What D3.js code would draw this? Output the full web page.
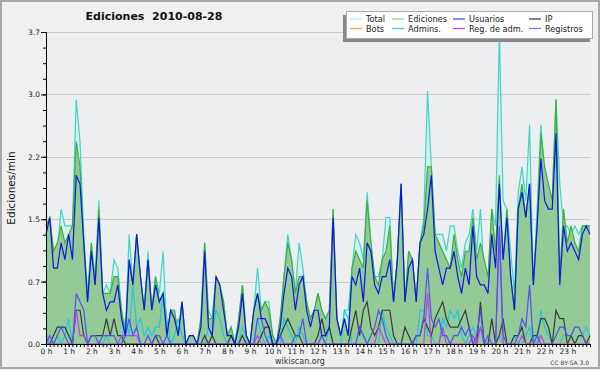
<!DOCTYPE html>
<html>
<head>
<meta charset="utf-8">
<title>Ediciones 2010-08-28</title>
<style type="text/css">
  body{ margin:0; background:#f0f0f0; }
  text{ font-family:"DejaVu Sans", sans-serif; }
</style>
</head>
<body>
<div id="chart"></div>
<script src="https://cdn.jsdelivr.net/npm/d3@7"></script>
<script>
// one value every 10 minutes, 0:00 .. 24:00 (edits per minute)
var total = [
  1.4,1.5,1.1,1.1,1.6,1.4,1.4,1.4,2.9,2.4,
  1.3,0.6,1.2,0.8,1.7,0.6,0.7,0.6,1.0,0.9,
  0.4,0.1,1.3,0.7,1.3,0.8,0.4,1.1,0.4,0.8,
  0.6,1.1,0.1,0.4,0.4,0.1,0.5,0,0.1,0.1,
  0,0.3,1.2,0.4,0.3,0.8,0.7,0.5,0.1,0.2,
  0,0.3,0.7,0.1,0,0.4,0.9,0.4,0.5,0.5,
  0.1,0,0.3,0.8,1.3,1.0,0.6,1.2,0.9,0.5,
  0.3,0.4,0.6,0.4,0.3,0.4,1.6,0.3,0.1,0.4,
  0.4,0.9,1.3,1.2,1.0,1.8,1.2,0.8,0.8,1.0,
  1.5,1.5,0.5,1.0,1.9,0.5,1.1,1.0,0.5,1.2,
  1.5,3.0,2.1,1.3,1.3,1.3,1.1,1.4,1.4,1.1,
  0.9,1.2,1.3,1.6,1.1,1.6,0.8,0.7,1.6,1.4,
  3.7,1.7,1.6,1.1,0.6,1.8,2.1,1.7,2.6,0.7,
  1.6,2.6,2.0,1.7,1.7,2.9,1.9,1.4,1.4,1.3,
  1.4,1.3,1.4,1.4,1.4];
var ediciones = [
  1.4,1.5,1.1,1.2,1.4,1.2,1.3,1.4,2.4,2.1,
  1.2,0.5,1.2,0.7,1.6,0.6,0.6,0.6,0.8,0.8,
  0.4,0.1,1.0,0.7,1.3,0.8,0.4,1.0,0.4,0.8,
  0.5,0.6,0.1,0.4,0.4,0.1,0.5,0,0.1,0.1,
  0,0.3,1.2,0.3,0.3,0.8,0.7,0.5,0.1,0.2,
  0,0.3,0.7,0.1,0,0.4,0.6,0.4,0.5,0.4,
  0.1,0,0.3,0.8,1.2,1.0,0.6,0.8,0.8,0.5,
  0.3,0.4,0.6,0.4,0.3,0.4,1.6,0.3,0.1,0.3,
  0.1,0.9,1.1,1.0,0.9,1.7,1.2,0.8,0.7,1.0,
  1.1,1.4,0.5,1.0,1.9,0.5,1.1,1.0,0.5,1.2,
  1.4,2.1,2.1,1.3,1.2,1.1,1.0,0.9,1.3,1.0,
  0.8,1.1,1.1,1.5,1.0,1.2,1.0,0.8,1.6,1.1,
  2.0,1.0,1.6,0.8,0.4,1.6,1.9,1.5,1.9,0.7,
  1.4,2.5,2.1,1.9,1.7,2.9,0.8,1.6,1.2,1.4,
  1.2,1.1,1.4,1.4,1.4];
var usuarios = [
  1.3,1.5,0.9,0.9,1.2,1.0,1.3,1.0,2.0,1.9,
  1.2,0.5,1.1,0.7,1.5,0.6,0.4,0.5,0.5,0.7,
  0.3,0.1,1.0,0.7,1.3,0.8,0.4,1.0,0.4,0.7,
  0.5,0.6,0.1,0.4,0.3,0.1,0.5,0,0.1,0.1,
  0,0.2,1.1,0.2,0.1,0.8,0.7,0.4,0.1,0.1,
  0,0.2,0.6,0.1,0,0.4,0.6,0.3,0.3,0.2,
  0,0,0.2,0.6,0.9,0.8,0.4,0.7,0.8,0.4,
  0.2,0.4,0.4,0.1,0.1,0.2,1.5,0.3,0.1,0.3,
  0.1,0.8,0.7,0.9,0.5,1.2,1.1,0.7,0.6,0.8,
  0.8,1.0,0.5,1.0,1.9,0.5,0.9,1.0,0.5,1.2,
  1.3,1.6,2.0,1.1,0.9,0.7,0.9,0.9,1.1,0.8,
  0.6,0.9,0.7,1.4,0.8,0.7,0.7,0.6,1.3,0.9,
  1.9,1.0,1.5,0.8,0.4,1.6,1.8,1.5,1.9,0.7,
  1.4,2.2,1.7,1.6,1.6,2.5,0.7,1.4,1.1,1.2,
  1.1,1.0,1.3,1.4,1.3];
var ip = [
  0,0,0.1,0.2,0.2,0.2,0.1,0,0.4,0.4,
  0.1,0,0.1,0.1,0.1,0.1,0.3,0.1,0.3,0.1,
  0.1,0,0,0,0,0,0,0,0,0.1,
  0,0,0,0,0,0,0,0,0,0,
  0,0,0.1,0,0.1,0,0,0,0,0.1,
  0,0,0.1,0,0,0,0,0.1,0.2,0.2,
  0,0,0.1,0.2,0.3,0.2,0.1,0.1,0,0,
  0,0,0.1,0.3,0.1,0.2,0,0,0,0,
  0,0.2,0.4,0.1,0.4,0.5,0.2,0.1,0.2,0.4,
  0.4,0.4,0.1,0,0,0.2,0.1,0,0.1,0.1,
  0.3,0.2,0.1,0.3,0.4,0.5,0.3,0.2,0.2,0.2,
  0.3,0.4,0.2,0,0,0.5,0,0,0.3,0,
  0.1,0.3,0,0,0.1,0.1,0.2,0,0,0.1,
  0.1,0.3,0.3,0.2,0,0.4,0.3,0.3,0,0.1,
  0,0.1,0.1,0,0.1];
var bots = [
  0,0,0,0,0,0,0,0,0,0, 0,0,0,0,0,0,0,0,0,0,
  0,0,0,0,0,0,0,0,0,0, 0,0,0,0,0,0,0,0,0,0,
  0,0,0,0,0,0,0,0,0,0, 0,0,0,0,0,0,0,0,0,0,
  0,0,0,0,0,0,0,0,0,0, 0,0,0,0,0,0,0,0,0,0,
  0,0,0,0,0,0,0,0,0,0, 0,0,0,0,0,0,0,0,0,0,
  0,0,0,0,0,0,0,0,0,0, 0,0,0,0,0,0,0,0,0,0,
  0,0,0,0,0,0,0,0,0,0, 0,0,0,0,0,0,0,0,0,0,
  0,0,0,0,0];
var admins = [
  0.1,0,0,0.1,0,0.1,0.3,0,0,0,
  0,0,0,0,0,0,0.1,0,0,0,
  0,0.3,0.1,0.7,0.2,0.3,0.1,0.2,0.1,0.2,
  0.2,0.6,0.3,0,0.1,0.3,0.1,0,0,0,
  0,0,0,0.2,0.1,0.4,0.3,0.1,0,0,
  0,0,0.2,0.1,0,0,0.3,0.1,0,0.1,
  0,0,0,0.3,0.2,0.1,0,0.2,0.1,0,
  0,0,0,0.1,0,0.2,0,0,0,0.4,
  0.3,0,0,0.2,0.1,0,0,0,0,0.4,
  0.2,0.1,0,0,0,0,0,0,0,0.4,
  0.4,0.1,0.1,0,0,0.3,0.2,0.4,0.3,0.4,
  0.1,0,0.1,0.2,0.1,0.2,0,0,0,0,
  0.1,0,0,0,0.1,0,0,0.1,0.2,0,
  0,0.4,0.2,0.1,0,0,0,0.1,0.1,0.1,
  0,0.1,0.1,0.2,0.1];
var regAdm = [
  0,0,0,0,0,0,0,0,0.4,0.1,
  0.1,0,0,0,0,0,0,0,0,0,
  0.1,0.1,0.1,0.1,0.1,0,0,0,0,0,
  0,0,0,0,0,0,0,0,0,0,
  0,0,0,0,0,0,0,0,0,0,
  0,0,0,0,0,0,0.1,0,0,0,
  0,0,0,0,0,0,0,0,0,0,
  0,0,0,0,0,0,0,0,0,0,
  0,0,0,0,0,0,0,0,0.2,0.1,
  0,0,0,0,0,0,0,0,0,0,
  0,0.6,0,0,0,0.2,0,0,0,0,
  0,0,0,0.1,0,0.2,0,0,0,0,
  1.3,0,0,0,0,0,0.1,0,0,0,
  0,0.1,0,0,0,0,0,0,0,0,
  0,0,0,0,0];
var registros = [
  0,0.1,0,0.1,0.2,0.1,0,0,0.6,0.5,
  0.4,0,0.1,0.1,0,0.1,0.1,0.1,0.1,0,
  0,0.1,0.3,0.1,0.2,0,0,0.1,0,0.1,
  0.1,0,0.1,0,0,0,0,0,0,0,
  0,0,0,0,0,0,0,0,0,0,
  0,0,0,0,0,0,0.3,0.3,0.1,0,
  0,0,0.1,0,0,0,0.1,0.1,0.3,0,
  0,0,0,0.1,0,0,0,0,0,0,
  0,0,0,0.2,0.1,0,0.1,0.2,0.4,0.3,
  0.1,0,0,0,0,0,0,0,0.1,0.1,
  0.3,0.9,0.3,0.2,0.3,0.1,0.1,0,0.1,0.1,
  0.2,0.1,0.2,0,0.1,0.4,0,0.1,0,0,
  1.4,0.1,0,0,0,0.1,0.3,0.2,0.7,0,
  0.1,0,0,0,0,0.1,0.2,0.2,0.1,0.1,
  0.2,0.2,0.1,0,0];

var hourLabels = ['0 h','1 h','2 h','3 h','4 h','5 h','6 h','7 h','8 h','9 h','10 h','11 h',
                  '12 h','13 h','14 h','15 h','16 h','17 h','18 h','19 h','20 h','21 h','22 h','23 h'];
var yTicks = [0, 0.74, 1.48, 2.22, 2.96, 3.7];
var yTickLabels = ['0.0','0.7','1.5','2.2','3.0','3.7'];

var legendNames  = ['Total','Ediciones','Usuarios','IP','Bots','Admins.','Reg. de adm.','Registros'];
var legendColors = ['#b2ecea','#8ed48e','#3a3ae6','#333333','#f2a23a','#3cc8e2','#c63ce6','#7272f2'];

var W = 600, H = 370;
var pLeft = 46, pRight = 590, pTop = 32, pBottom = 344;

var svg = d3.select('#chart').append('svg')
    .attr('width', W).attr('height', H);

svg.append('rect').attr('x',1).attr('y',1).attr('width',W-2).attr('height',H-3)
    .attr('fill','#f0f0f0').attr('stroke','#a8a8a8').attr('stroke-width',2);

var x = d3.scaleLinear().domain([0, 144]).range([pLeft, pRight]);
var y = d3.scaleLinear().domain([0, 3.7]).range([pBottom, pTop]);

svg.append('rect').attr('x',pLeft).attr('y',pTop)
    .attr('width',pRight-pLeft).attr('height',pBottom-pTop).attr('fill','#eceef0');

// grid
svg.append('g').selectAll('line')
  .data(yTicks.slice(1))
  .enter().append('line')
  .attr('x1',pLeft).attr('x2',pRight)
  .attr('y1',function(d){ return Math.round(y(d))+0.5; })
  .attr('y2',function(d){ return Math.round(y(d))+0.5; })
  .style('stroke','#c9c9c9').style('stroke-width',1);

function area(arr){
  return d3.area()
    .x(function(d,i){ return x(i); })
    .y0(y(0))
    .y1(function(d){ return y(d); })(arr);
}
function line(arr){
  return d3.line()
    .x(function(d,i){ return x(i); })
    .y(function(d){ return y(d); })(arr);
}

var g = svg.append('g');
g.append('path').attr('d', area(total)).attr('fill','#d6f1ec');
g.append('path').attr('d', line(total)).attr('fill','none').style('stroke','#3fd4c6').style('stroke-width',1.2);
g.append('path').attr('d', area(ediciones)).attr('fill','#93ca95');
g.append('path').attr('d', line(ediciones)).attr('fill','none').style('stroke','#3caf3c').style('stroke-width',1.2);

var others = [
  { v: bots,      c: '#f2a23a' },
  { v: admins,    c: '#22c6e0' },
  { v: ip,        c: '#3a3a3a' },
  { v: regAdm,    c: '#c03ce8' },
  { v: registros, c: '#5050f6' },
  { v: usuarios,  c: '#1016e2' }
];
others.forEach(function(s){
  g.append('path').attr('d', line(s.v)).attr('fill','none')
    .style('stroke', s.c).style('stroke-width',1.2);
});

// axes
svg.append('g').attr('transform','translate(' + pLeft + ',0)')
  .call(d3.axisLeft(y).tickValues(yTicks)
        .tickFormat(function(d,i){ return yTickLabels[i]; })
        .tickSize(5).tickSizeOuter(0).tickPadding(1));
svg.append('g').attr('transform','translate(' + pLeft + ',0)')
  .call(d3.axisLeft(y).tickValues(d3.range(0, 21).map(function(k){ return k*0.185; }))
        .tickFormat('').tickSize(3).tickSizeOuter(0));

svg.append('g').attr('transform','translate(0,' + pBottom + ')')
  .call(d3.axisBottom(x).tickValues(hourLabels.map(function(d,i){ return i*6; }))
        .tickFormat(function(d,i){ return hourLabels[i]; })
        .tickSize(3).tickSizeOuter(0).tickPadding(2));
svg.append('g').attr('transform','translate(0,' + pBottom + ')')
  .call(d3.axisBottom(x).tickValues(d3.range(0, 145))
        .tickFormat('').tickSize(3).tickSizeOuter(0));

svg.selectAll('.tick text').style('font-family','DejaVu Sans').style('font-size','7.5px').attr('fill','#222');
svg.selectAll('.domain').style('stroke','#000');
svg.selectAll('.tick line').style('stroke','#000');

// title
svg.append('text').attr('x',154).attr('y',20).attr('text-anchor','middle')
  .attr('xml:space','preserve')
  .style('font-size','11px').style('font-weight','bold').attr('fill','#111')
  .text('Ediciones  2010-08-28');

svg.append('text').attr('transform','translate(15,188) rotate(-90)')
  .attr('text-anchor','middle').style('font-size','10.5px').attr('fill','#111')
  .text('Ediciones/min');

svg.append('text').attr('x',300).attr('y',364).attr('text-anchor','middle')
  .style('font-size','8px').attr('fill','#333').text('wikiscan.org');
svg.append('text').attr('x',589).attr('y',365).attr('text-anchor','end')
  .style('font-size','6px').attr('fill','#444').text('CC BY-SA 3.0');

// legend
var lg = svg.append('g');
lg.append('rect').attr('x',343).attr('y',15).attr('width',247).attr('height',27).attr('fill','#888');
lg.append('rect').attr('x',346.5).attr('y',11.5).attr('width',246).attr('height',27)
  .attr('fill','#fff').attr('stroke','#aaa');
var colX = [350, 392, 453, 529];
var rowY = [19, 28.5];
legendNames.forEach(function(name, k){
  var cx = colX[k % 4], cy = rowY[Math.floor(k / 4)];
  lg.append('line').attr('x1',cx).attr('x2',cx+12).attr('y1',cy).attr('y2',cy)
    .style('stroke', legendColors[k]).style('stroke-width',1.2);
  lg.append('text').attr('x',cx+16).attr('y',cy+3.3)
    .style('font-size','8.2px').attr('fill','#222').text(name);
});
</script>
</body>
</html>
